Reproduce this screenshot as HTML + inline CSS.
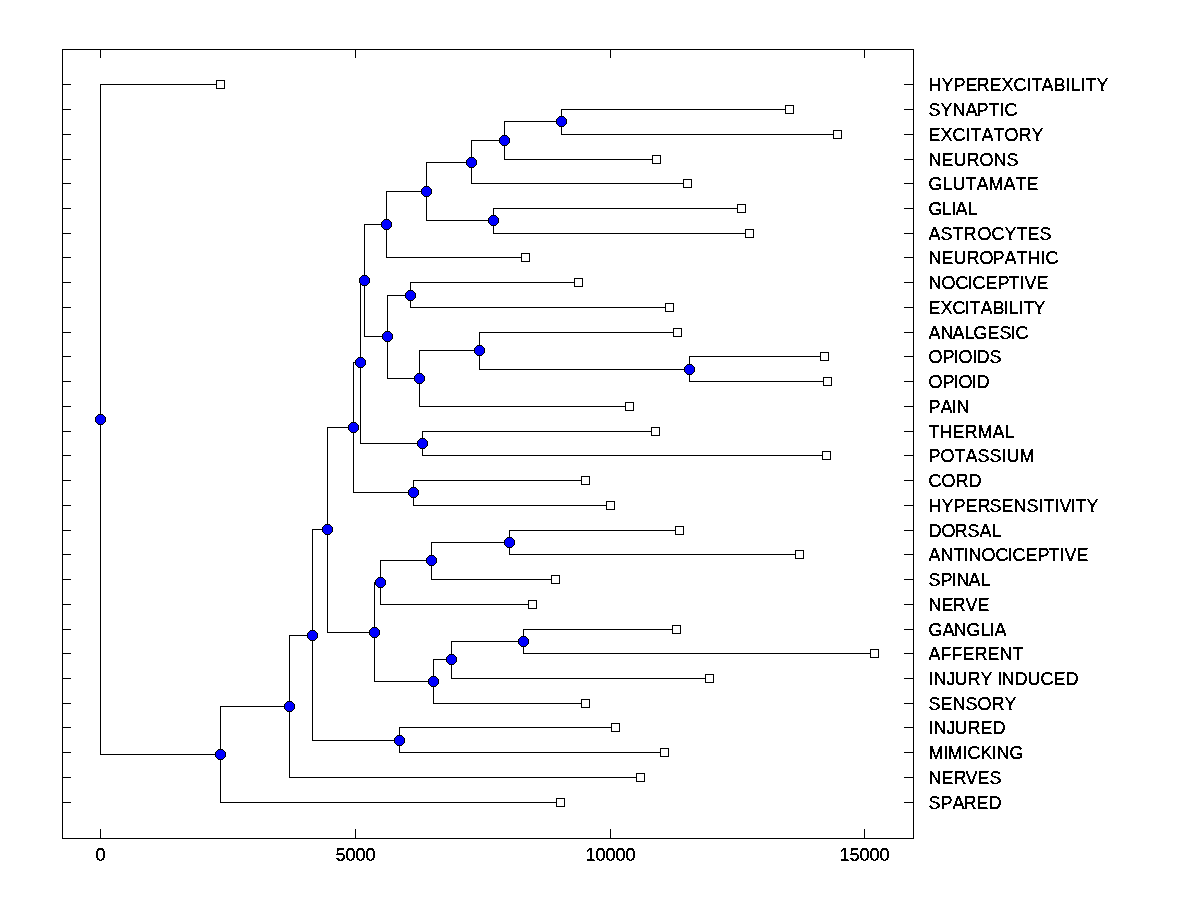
<!DOCTYPE html>
<html lang="en"><head><meta charset="utf-8"><title>Dendrogram</title>
<style>
html,body{margin:0;padding:0;background:#fff;}
body{width:1200px;height:900px;overflow:hidden;}
svg{display:block;}
text{font-family:"Liberation Sans",Arial,sans-serif;font-size:18px;fill:#000;font-kerning:none;stroke:#000;stroke-width:0.4px;}
</style></head><body>
<svg width="1200" height="900" viewBox="0 0 1200 900" shape-rendering="crispEdges">
<rect x="0" y="0" width="1200" height="900" fill="#fff"/>
<g fill="#000">
<rect x="62" y="49" width="852" height="1"/><rect x="62" y="838" width="852" height="1"/><rect x="62" y="49" width="1" height="790"/><rect x="913" y="49" width="1" height="790"/>
<rect x="100" y="49" width="1" height="9"/><rect x="100" y="829" width="1" height="10"/><rect x="355" y="49" width="1" height="9"/><rect x="355" y="829" width="1" height="10"/><rect x="610" y="49" width="1" height="9"/><rect x="610" y="829" width="1" height="10"/><rect x="864" y="49" width="1" height="9"/><rect x="864" y="829" width="1" height="10"/>
<rect x="62" y="84" width="9" height="1"/><rect x="904" y="84" width="10" height="1"/><rect x="62" y="109" width="9" height="1"/><rect x="904" y="109" width="10" height="1"/><rect x="62" y="134" width="9" height="1"/><rect x="904" y="134" width="10" height="1"/><rect x="62" y="159" width="9" height="1"/><rect x="904" y="159" width="10" height="1"/><rect x="62" y="183" width="9" height="1"/><rect x="904" y="183" width="10" height="1"/><rect x="62" y="208" width="9" height="1"/><rect x="904" y="208" width="10" height="1"/><rect x="62" y="233" width="9" height="1"/><rect x="904" y="233" width="10" height="1"/><rect x="62" y="257" width="9" height="1"/><rect x="904" y="257" width="10" height="1"/><rect x="62" y="282" width="9" height="1"/><rect x="904" y="282" width="10" height="1"/><rect x="62" y="307" width="9" height="1"/><rect x="904" y="307" width="10" height="1"/><rect x="62" y="332" width="9" height="1"/><rect x="904" y="332" width="10" height="1"/><rect x="62" y="356" width="9" height="1"/><rect x="904" y="356" width="10" height="1"/><rect x="62" y="381" width="9" height="1"/><rect x="904" y="381" width="10" height="1"/><rect x="62" y="406" width="9" height="1"/><rect x="904" y="406" width="10" height="1"/><rect x="62" y="431" width="9" height="1"/><rect x="904" y="431" width="10" height="1"/><rect x="62" y="455" width="9" height="1"/><rect x="904" y="455" width="10" height="1"/><rect x="62" y="480" width="9" height="1"/><rect x="904" y="480" width="10" height="1"/><rect x="62" y="505" width="9" height="1"/><rect x="904" y="505" width="10" height="1"/><rect x="62" y="530" width="9" height="1"/><rect x="904" y="530" width="10" height="1"/><rect x="62" y="554" width="9" height="1"/><rect x="904" y="554" width="10" height="1"/><rect x="62" y="579" width="9" height="1"/><rect x="904" y="579" width="10" height="1"/><rect x="62" y="604" width="9" height="1"/><rect x="904" y="604" width="10" height="1"/><rect x="62" y="629" width="9" height="1"/><rect x="904" y="629" width="10" height="1"/><rect x="62" y="653" width="9" height="1"/><rect x="904" y="653" width="10" height="1"/><rect x="62" y="678" width="9" height="1"/><rect x="904" y="678" width="10" height="1"/><rect x="62" y="703" width="9" height="1"/><rect x="904" y="703" width="10" height="1"/><rect x="62" y="727" width="9" height="1"/><rect x="904" y="727" width="10" height="1"/><rect x="62" y="752" width="9" height="1"/><rect x="904" y="752" width="10" height="1"/><rect x="62" y="777" width="9" height="1"/><rect x="904" y="777" width="10" height="1"/><rect x="62" y="802" width="9" height="1"/><rect x="904" y="802" width="10" height="1"/>
<rect x="561" y="109" width="1" height="26"/><rect x="561" y="109" width="229" height="1"/><rect x="561" y="134" width="277" height="1"/><rect x="504" y="121" width="1" height="39"/><rect x="504" y="121" width="58" height="1"/><rect x="504" y="159" width="153" height="1"/><rect x="471" y="140" width="1" height="44"/><rect x="471" y="140" width="34" height="1"/><rect x="471" y="183" width="217" height="1"/><rect x="493" y="208" width="1" height="26"/><rect x="493" y="208" width="249" height="1"/><rect x="493" y="233" width="257" height="1"/><rect x="426" y="162" width="1" height="59"/><rect x="426" y="162" width="46" height="1"/><rect x="426" y="220" width="68" height="1"/><rect x="386" y="191" width="1" height="67"/><rect x="386" y="191" width="41" height="1"/><rect x="386" y="257" width="140" height="1"/><rect x="410" y="282" width="1" height="26"/><rect x="410" y="282" width="169" height="1"/><rect x="410" y="307" width="260" height="1"/><rect x="689" y="356" width="1" height="26"/><rect x="689" y="356" width="136" height="1"/><rect x="689" y="381" width="139" height="1"/><rect x="479" y="332" width="1" height="38"/><rect x="479" y="332" width="199" height="1"/><rect x="479" y="369" width="211" height="1"/><rect x="419" y="350" width="1" height="57"/><rect x="419" y="350" width="61" height="1"/><rect x="419" y="406" width="211" height="1"/><rect x="387" y="295" width="1" height="84"/><rect x="387" y="295" width="24" height="1"/><rect x="387" y="378" width="33" height="1"/><rect x="364" y="224" width="1" height="113"/><rect x="364" y="224" width="23" height="1"/><rect x="364" y="336" width="24" height="1"/><rect x="422" y="431" width="1" height="25"/><rect x="422" y="431" width="234" height="1"/><rect x="422" y="455" width="405" height="1"/><rect x="360" y="280" width="1" height="164"/><rect x="360" y="280" width="5" height="1"/><rect x="360" y="443" width="63" height="1"/><rect x="413" y="480" width="1" height="26"/><rect x="413" y="480" width="173" height="1"/><rect x="413" y="505" width="198" height="1"/><rect x="353" y="362" width="1" height="131"/><rect x="353" y="362" width="8" height="1"/><rect x="353" y="492" width="61" height="1"/><rect x="509" y="530" width="1" height="25"/><rect x="509" y="530" width="171" height="1"/><rect x="509" y="554" width="291" height="1"/><rect x="431" y="542" width="1" height="38"/><rect x="431" y="542" width="79" height="1"/><rect x="431" y="579" width="125" height="1"/><rect x="380" y="560" width="1" height="45"/><rect x="380" y="560" width="52" height="1"/><rect x="380" y="604" width="153" height="1"/><rect x="523" y="629" width="1" height="25"/><rect x="523" y="629" width="154" height="1"/><rect x="523" y="653" width="352" height="1"/><rect x="451" y="641" width="1" height="38"/><rect x="451" y="641" width="73" height="1"/><rect x="451" y="678" width="259" height="1"/><rect x="433" y="659" width="1" height="45"/><rect x="433" y="659" width="19" height="1"/><rect x="433" y="703" width="153" height="1"/><rect x="374" y="582" width="1" height="100"/><rect x="374" y="582" width="7" height="1"/><rect x="374" y="681" width="60" height="1"/><rect x="327" y="427" width="1" height="206"/><rect x="327" y="427" width="27" height="1"/><rect x="327" y="632" width="48" height="1"/><rect x="399" y="727" width="1" height="26"/><rect x="399" y="727" width="217" height="1"/><rect x="399" y="752" width="266" height="1"/><rect x="312" y="529" width="1" height="212"/><rect x="312" y="529" width="16" height="1"/><rect x="312" y="740" width="88" height="1"/><rect x="289" y="635" width="1" height="143"/><rect x="289" y="635" width="24" height="1"/><rect x="289" y="777" width="352" height="1"/><rect x="220" y="706" width="1" height="97"/><rect x="220" y="706" width="70" height="1"/><rect x="220" y="802" width="341" height="1"/><rect x="100" y="84" width="1" height="671"/><rect x="100" y="84" width="121" height="1"/><rect x="100" y="754" width="121" height="1"/>
</g>
<g fill="#fff" stroke="#000" stroke-width="1">
<rect x="216.5" y="80.5" width="8" height="8"/><rect x="785.5" y="105.5" width="8" height="8"/><rect x="833.5" y="130.5" width="8" height="8"/><rect x="652.5" y="155.5" width="8" height="8"/><rect x="683.5" y="179.5" width="8" height="8"/><rect x="737.5" y="204.5" width="8" height="8"/><rect x="745.5" y="229.5" width="8" height="8"/><rect x="521.5" y="253.5" width="8" height="8"/><rect x="574.5" y="278.5" width="8" height="8"/><rect x="665.5" y="303.5" width="8" height="8"/><rect x="673.5" y="328.5" width="8" height="8"/><rect x="820.5" y="352.5" width="8" height="8"/><rect x="823.5" y="377.5" width="8" height="8"/><rect x="625.5" y="402.5" width="8" height="8"/><rect x="651.5" y="427.5" width="8" height="8"/><rect x="822.5" y="451.5" width="8" height="8"/><rect x="581.5" y="476.5" width="8" height="8"/><rect x="606.5" y="501.5" width="8" height="8"/><rect x="675.5" y="526.5" width="8" height="8"/><rect x="795.5" y="550.5" width="8" height="8"/><rect x="551.5" y="575.5" width="8" height="8"/><rect x="528.5" y="600.5" width="8" height="8"/><rect x="672.5" y="625.5" width="8" height="8"/><rect x="870.5" y="649.5" width="8" height="8"/><rect x="705.5" y="674.5" width="8" height="8"/><rect x="581.5" y="699.5" width="8" height="8"/><rect x="611.5" y="723.5" width="8" height="8"/><rect x="660.5" y="748.5" width="8" height="8"/><rect x="636.5" y="773.5" width="8" height="8"/><rect x="556.5" y="798.5" width="8" height="8"/>
</g>
<g>
<path fill="#000" d="M559 116h5v1h1v1h1v1h1v5h-1v1h-1v1h-1v1h-5v-1h-1v-1h-1v-1h-1v-5h1v-1h1v-1h1z"/><path fill="#00f" d="M559 117h5v1h1v1h1v5h-1v1h-1v1h-5v-1h-1v-1h-1v-5h1v-1h1z"/><path fill="#000" d="M502 135h5v1h1v1h1v1h1v5h-1v1h-1v1h-1v1h-5v-1h-1v-1h-1v-1h-1v-5h1v-1h1v-1h1z"/><path fill="#00f" d="M502 136h5v1h1v1h1v5h-1v1h-1v1h-5v-1h-1v-1h-1v-5h1v-1h1z"/><path fill="#000" d="M469 157h5v1h1v1h1v1h1v5h-1v1h-1v1h-1v1h-5v-1h-1v-1h-1v-1h-1v-5h1v-1h1v-1h1z"/><path fill="#00f" d="M469 158h5v1h1v1h1v5h-1v1h-1v1h-5v-1h-1v-1h-1v-5h1v-1h1z"/><path fill="#000" d="M491 215h5v1h1v1h1v1h1v5h-1v1h-1v1h-1v1h-5v-1h-1v-1h-1v-1h-1v-5h1v-1h1v-1h1z"/><path fill="#00f" d="M491 216h5v1h1v1h1v5h-1v1h-1v1h-5v-1h-1v-1h-1v-5h1v-1h1z"/><path fill="#000" d="M424 186h5v1h1v1h1v1h1v5h-1v1h-1v1h-1v1h-5v-1h-1v-1h-1v-1h-1v-5h1v-1h1v-1h1z"/><path fill="#00f" d="M424 187h5v1h1v1h1v5h-1v1h-1v1h-5v-1h-1v-1h-1v-5h1v-1h1z"/><path fill="#000" d="M384 219h5v1h1v1h1v1h1v5h-1v1h-1v1h-1v1h-5v-1h-1v-1h-1v-1h-1v-5h1v-1h1v-1h1z"/><path fill="#00f" d="M384 220h5v1h1v1h1v5h-1v1h-1v1h-5v-1h-1v-1h-1v-5h1v-1h1z"/><path fill="#000" d="M408 290h5v1h1v1h1v1h1v5h-1v1h-1v1h-1v1h-5v-1h-1v-1h-1v-1h-1v-5h1v-1h1v-1h1z"/><path fill="#00f" d="M408 291h5v1h1v1h1v5h-1v1h-1v1h-5v-1h-1v-1h-1v-5h1v-1h1z"/><path fill="#000" d="M687 364h5v1h1v1h1v1h1v5h-1v1h-1v1h-1v1h-5v-1h-1v-1h-1v-1h-1v-5h1v-1h1v-1h1z"/><path fill="#00f" d="M687 365h5v1h1v1h1v5h-1v1h-1v1h-5v-1h-1v-1h-1v-5h1v-1h1z"/><path fill="#000" d="M477 345h5v1h1v1h1v1h1v5h-1v1h-1v1h-1v1h-5v-1h-1v-1h-1v-1h-1v-5h1v-1h1v-1h1z"/><path fill="#00f" d="M477 346h5v1h1v1h1v5h-1v1h-1v1h-5v-1h-1v-1h-1v-5h1v-1h1z"/><path fill="#000" d="M417 373h5v1h1v1h1v1h1v5h-1v1h-1v1h-1v1h-5v-1h-1v-1h-1v-1h-1v-5h1v-1h1v-1h1z"/><path fill="#00f" d="M417 374h5v1h1v1h1v5h-1v1h-1v1h-5v-1h-1v-1h-1v-5h1v-1h1z"/><path fill="#000" d="M385 331h5v1h1v1h1v1h1v5h-1v1h-1v1h-1v1h-5v-1h-1v-1h-1v-1h-1v-5h1v-1h1v-1h1z"/><path fill="#00f" d="M385 332h5v1h1v1h1v5h-1v1h-1v1h-5v-1h-1v-1h-1v-5h1v-1h1z"/><path fill="#000" d="M362 275h5v1h1v1h1v1h1v5h-1v1h-1v1h-1v1h-5v-1h-1v-1h-1v-1h-1v-5h1v-1h1v-1h1z"/><path fill="#00f" d="M362 276h5v1h1v1h1v5h-1v1h-1v1h-5v-1h-1v-1h-1v-5h1v-1h1z"/><path fill="#000" d="M420 438h5v1h1v1h1v1h1v5h-1v1h-1v1h-1v1h-5v-1h-1v-1h-1v-1h-1v-5h1v-1h1v-1h1z"/><path fill="#00f" d="M420 439h5v1h1v1h1v5h-1v1h-1v1h-5v-1h-1v-1h-1v-5h1v-1h1z"/><path fill="#000" d="M358 357h5v1h1v1h1v1h1v5h-1v1h-1v1h-1v1h-5v-1h-1v-1h-1v-1h-1v-5h1v-1h1v-1h1z"/><path fill="#00f" d="M358 358h5v1h1v1h1v5h-1v1h-1v1h-5v-1h-1v-1h-1v-5h1v-1h1z"/><path fill="#000" d="M411 487h5v1h1v1h1v1h1v5h-1v1h-1v1h-1v1h-5v-1h-1v-1h-1v-1h-1v-5h1v-1h1v-1h1z"/><path fill="#00f" d="M411 488h5v1h1v1h1v5h-1v1h-1v1h-5v-1h-1v-1h-1v-5h1v-1h1z"/><path fill="#000" d="M351 422h5v1h1v1h1v1h1v5h-1v1h-1v1h-1v1h-5v-1h-1v-1h-1v-1h-1v-5h1v-1h1v-1h1z"/><path fill="#00f" d="M351 423h5v1h1v1h1v5h-1v1h-1v1h-5v-1h-1v-1h-1v-5h1v-1h1z"/><path fill="#000" d="M507 537h5v1h1v1h1v1h1v5h-1v1h-1v1h-1v1h-5v-1h-1v-1h-1v-1h-1v-5h1v-1h1v-1h1z"/><path fill="#00f" d="M507 538h5v1h1v1h1v5h-1v1h-1v1h-5v-1h-1v-1h-1v-5h1v-1h1z"/><path fill="#000" d="M429 555h5v1h1v1h1v1h1v5h-1v1h-1v1h-1v1h-5v-1h-1v-1h-1v-1h-1v-5h1v-1h1v-1h1z"/><path fill="#00f" d="M429 556h5v1h1v1h1v5h-1v1h-1v1h-5v-1h-1v-1h-1v-5h1v-1h1z"/><path fill="#000" d="M378 577h5v1h1v1h1v1h1v5h-1v1h-1v1h-1v1h-5v-1h-1v-1h-1v-1h-1v-5h1v-1h1v-1h1z"/><path fill="#00f" d="M378 578h5v1h1v1h1v5h-1v1h-1v1h-5v-1h-1v-1h-1v-5h1v-1h1z"/><path fill="#000" d="M521 636h5v1h1v1h1v1h1v5h-1v1h-1v1h-1v1h-5v-1h-1v-1h-1v-1h-1v-5h1v-1h1v-1h1z"/><path fill="#00f" d="M521 637h5v1h1v1h1v5h-1v1h-1v1h-5v-1h-1v-1h-1v-5h1v-1h1z"/><path fill="#000" d="M449 654h5v1h1v1h1v1h1v5h-1v1h-1v1h-1v1h-5v-1h-1v-1h-1v-1h-1v-5h1v-1h1v-1h1z"/><path fill="#00f" d="M449 655h5v1h1v1h1v5h-1v1h-1v1h-5v-1h-1v-1h-1v-5h1v-1h1z"/><path fill="#000" d="M431 676h5v1h1v1h1v1h1v5h-1v1h-1v1h-1v1h-5v-1h-1v-1h-1v-1h-1v-5h1v-1h1v-1h1z"/><path fill="#00f" d="M431 677h5v1h1v1h1v5h-1v1h-1v1h-5v-1h-1v-1h-1v-5h1v-1h1z"/><path fill="#000" d="M372 627h5v1h1v1h1v1h1v5h-1v1h-1v1h-1v1h-5v-1h-1v-1h-1v-1h-1v-5h1v-1h1v-1h1z"/><path fill="#00f" d="M372 628h5v1h1v1h1v5h-1v1h-1v1h-5v-1h-1v-1h-1v-5h1v-1h1z"/><path fill="#000" d="M325 524h5v1h1v1h1v1h1v5h-1v1h-1v1h-1v1h-5v-1h-1v-1h-1v-1h-1v-5h1v-1h1v-1h1z"/><path fill="#00f" d="M325 525h5v1h1v1h1v5h-1v1h-1v1h-5v-1h-1v-1h-1v-5h1v-1h1z"/><path fill="#000" d="M397 735h5v1h1v1h1v1h1v5h-1v1h-1v1h-1v1h-5v-1h-1v-1h-1v-1h-1v-5h1v-1h1v-1h1z"/><path fill="#00f" d="M397 736h5v1h1v1h1v5h-1v1h-1v1h-5v-1h-1v-1h-1v-5h1v-1h1z"/><path fill="#000" d="M310 630h5v1h1v1h1v1h1v5h-1v1h-1v1h-1v1h-5v-1h-1v-1h-1v-1h-1v-5h1v-1h1v-1h1z"/><path fill="#00f" d="M310 631h5v1h1v1h1v5h-1v1h-1v1h-5v-1h-1v-1h-1v-5h1v-1h1z"/><path fill="#000" d="M287 701h5v1h1v1h1v1h1v5h-1v1h-1v1h-1v1h-5v-1h-1v-1h-1v-1h-1v-5h1v-1h1v-1h1z"/><path fill="#00f" d="M287 702h5v1h1v1h1v5h-1v1h-1v1h-5v-1h-1v-1h-1v-5h1v-1h1z"/><path fill="#000" d="M218 749h5v1h1v1h1v1h1v5h-1v1h-1v1h-1v1h-5v-1h-1v-1h-1v-1h-1v-5h1v-1h1v-1h1z"/><path fill="#00f" d="M218 750h5v1h1v1h1v5h-1v1h-1v1h-5v-1h-1v-1h-1v-5h1v-1h1z"/><path fill="#000" d="M98 414h5v1h1v1h1v1h1v5h-1v1h-1v1h-1v1h-5v-1h-1v-1h-1v-1h-1v-5h1v-1h1v-1h1z"/><path fill="#00f" d="M98 415h5v1h1v1h1v5h-1v1h-1v1h-5v-1h-1v-1h-1v-5h1v-1h1z"/>
</g>
<defs><filter id="crisp" filterUnits="userSpaceOnUse" x="0" y="0" width="1200" height="900" color-interpolation-filters="sRGB"><feComponentTransfer><feFuncA type="discrete" tableValues="0 0 0 0 0 0 0 0 0 0 0 0 1 1 1 1 1 1 1 1"/></feComponentTransfer></filter></defs>
<g filter="url(#crisp)">
<text x="928.5 941.5 953.5 965.5 976.5 989.5 1001.5 1013.5 1026.5 1031.5 1041.5 1053.5 1065.5 1070.5 1080.5 1085.5 1096.5" y="91">HYPEREXCITABILITY</text>
<text x="928.5 940.5 952.5 965.5 976.5 988.5 999.5 1004.5" y="116">SYNAPTIC</text>
<text x="928.5 940.5 952.5 965.5 970.5 981.5 993.5 1004.5 1018.5 1031.5" y="141">EXCITATORY</text>
<text x="928.5 941.5 953.5 966.5 979.5 993.5 1006.5" y="166">NEURONS</text>
<text x="928.5 942.5 952.5 965.5 976.5 988.5 1003.5 1015.5 1026.5" y="190">GLUTAMATE</text>
<text x="928.5 941.5 951.5 955.5 967.5" y="215">GLIAL</text>
<text x="928.5 940.5 952.5 963.5 977.5 991.5 1004.5 1016.5 1027.5 1039.5" y="240">ASTROCYTES</text>
<text x="928.5 941.5 953.5 966.5 979.5 992.5 1004.5 1016.5 1027.5 1040.5 1045.5" y="264">NEUROPATHIC</text>
<text x="928.5 941.5 955.5 967.5 972.5 985.5 997.5 1008.5 1019.5 1024.5 1036.5" y="289">NOCICEPTIVE</text>
<text x="928.5 940.5 952.5 964.5 969.5 980.5 992.5 1003.5 1008.5 1018.5 1023.5 1033.5" y="314">EXCITABILITY</text>
<text x="928.5 940.5 952.5 964.5 973.5 987.5 999.5 1010.5 1015.5" y="339">ANALGESIC</text>
<text x="928.5 942.5 953.5 958.5 972.5 976.5 989.5" y="363">OPIOIDS</text>
<text x="928.5 942.5 953.5 958.5 971.5 976.5" y="388">OPIOID</text>
<text x="928.5 940.5 951.5 956.5" y="413">PAIN</text>
<text x="928.5 939.5 952.5 964.5 977.5 992.5 1004.5" y="438">THERMAL</text>
<text x="928.5 940.5 954.5 965.5 977.5 989.5 1001.5 1006.5 1019.5" y="462">POTASSIUM</text>
<text x="928.5 941.5 955.5 968.5" y="487">CORD</text>
<text x="928.5 941.5 953.5 965.5 977.5 989.5 1001.5 1013.5 1026.5 1038.5 1043.5 1054.5 1059.5 1070.5 1075.5 1086.5" y="512">HYPERSENSITIVITY</text>
<text x="928.5 941.5 954.5 967.5 979.5 991.5" y="537">DORSAL</text>
<text x="928.5 940.5 953.5 963.5 968.5 981.5 995.5 1007.5 1012.5 1025.5 1037.5 1048.5 1059.5 1064.5 1076.5" y="561">ANTINOCICEPTIVE</text>
<text x="928.5 940.5 951.5 956.5 968.5 980.5" y="586">SPINAL</text>
<text x="928.5 941.5 952.5 965.5 977.5" y="611">NERVE</text>
<text x="928.5 942.5 953.5 966.5 980.5 989.5 994.5" y="636">GANGLIA</text>
<text x="928.5 940.5 951.5 962.5 974.5 987.5 999.5 1012.5" y="660">AFFERENT</text>
<text x="928.5 933.5 946.5 954.5 967.5 980.5 992.5 997.5 1001.5 1014.5 1027.5 1040.5 1053.5 1065.5" y="685">INJURY INDUCED</text>
<text x="928.5 940.5 952.5 965.5 977.5 991.5 1004.5" y="710">SENSORY</text>
<text x="928.5 933.5 946.5 954.5 967.5 980.5 992.5" y="734">INJURED</text>
<text x="928.5 943.5 947.5 962.5 967.5 980.5 991.5 996.5 1009.5" y="759">MIMICKING</text>
<text x="928.5 941.5 953.5 965.5 977.5 989.5" y="784">NERVES</text>
<text x="928.5 940.5 952.5 963.5 976.5 988.5" y="809">SPARED</text>
<text x="95.5" y="861">0</text>
<text x="335.5 345.5 355.5 365.5" y="861">5000</text>
<text x="585.5 595.5 605.5 615.5 625.5" y="861">10000</text>
<text x="839.5 849.5 859.5 869.5 879.5" y="861">15000</text>
</g>
</svg>
</body></html>
